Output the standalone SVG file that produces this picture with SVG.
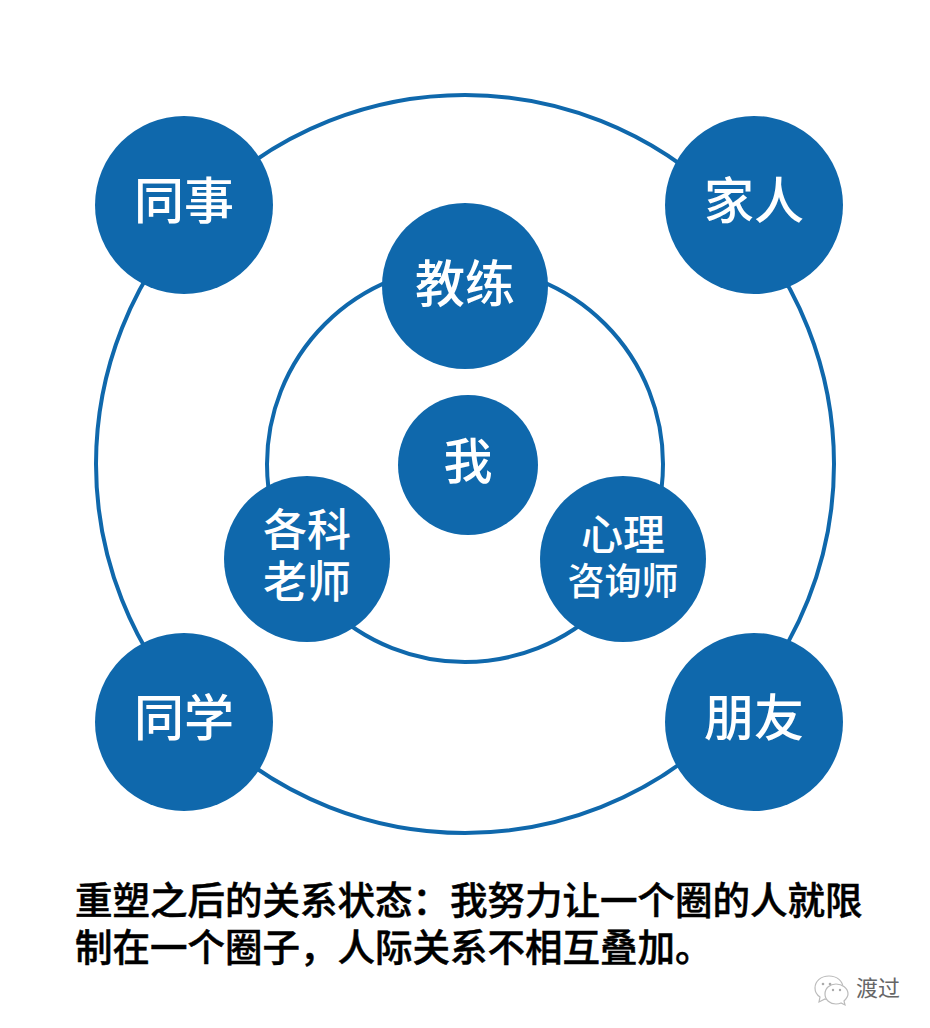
<svg xmlns="http://www.w3.org/2000/svg" width="930" height="1028" viewBox="0 0 930 1028">
<style>
.ring{fill:none;stroke:#0f68ac;stroke-width:4}
.n{fill:#0f68ac}
text{font-family:"Noto Sans CJK SC",sans-serif;text-anchor:middle}
.w{fill:#fff;font-weight:500}
.c{fill:#000;font-weight:500;font-size:37.5px;text-anchor:start;stroke:#000;stroke-width:.5}
.b{fill:#fff;stroke:#bbb;stroke-width:1.2}
.e{fill:#aaa}
</style>
<rect width="930" height="1028" fill="#fff"/>
<g id="connectors">
<circle class="ring" cx="465" cy="464" r="369"/>
<circle class="ring" cx="465" cy="464" r="198"/>
</g>
<g id="tongshi"><circle class="n" cx="184" cy="205" r="89"/><text class="w" x="184" y="219" font-size="50">同事</text></g>
<g id="jiaren"><circle class="n" cx="754" cy="205" r="89"/><text class="w" x="754" y="219" font-size="50">家人</text></g>
<g id="tongxue"><circle class="n" cx="184" cy="722" r="89"/><text class="w" x="184" y="736" font-size="50">同学</text></g>
<g id="pengyou"><circle class="n" cx="754" cy="722" r="89"/><text class="w" x="754" y="736" font-size="50">朋友</text></g>
<g id="jiaolian"><circle class="n" cx="465" cy="286" r="83"/><text class="w" x="465" y="302" font-size="50">教练</text></g>
<g id="wo"><circle class="n" cx="468" cy="465" r="70"/><text class="w" x="468" y="479" font-size="49">我</text></g>
<g id="laoshi"><circle class="n" cx="307" cy="559" r="83"/><text class="w" x="307" y="546" font-size="44">各科</text><text class="w" x="307" y="598" font-size="44">老师</text></g>
<g id="zixun"><circle class="n" cx="623" cy="559" r="83"/><text class="w" x="623" y="550" font-size="42">心理</text><text class="w" x="623" y="595" font-size="37">咨询师</text></g>
<g id="caption">
<text class="c" x="75" y="914">重塑之后的关系状态：我努力让一个圈的人就限</text>
<text class="c" x="75" y="961">制在一个圈子，人际关系不相互叠加。</text>
</g>
<g id="watermark">
<path class="b" d="M829 976c-8 0-14 5-14 12 0 4 2 7 5 9l-1 5 6-3c2 1 4 1 6 1 7 0 12-5 12-12 0-7-6-12-14-12z"/>
<path class="b" d="M836 984c-6 0-11 4-11 10 0 6 5 10 11 10 2 0 3 0 5-1l4 2-1-4c2-2 4-4 4-7 0-6-6-10-12-10z"/>
<circle class="e" cx="823" cy="984" r="1.3"/><circle class="e" cx="830" cy="984" r="1.3"/><circle class="e" cx="833" cy="990" r="1.2"/><circle class="e" cx="840" cy="990" r="1.2"/>
<text x="878" y="996" font-size="22" fill="#666">渡过</text>
</g>
</svg>
